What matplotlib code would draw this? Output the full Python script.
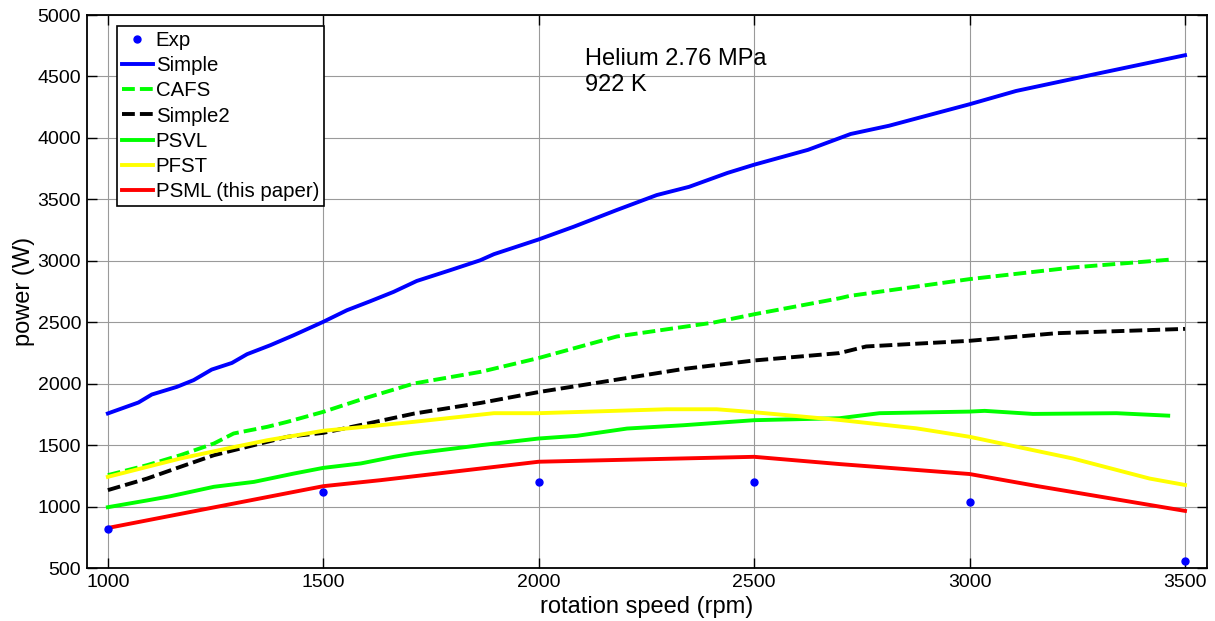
import numpy as np
import matplotlib
matplotlib.use('Agg')
import matplotlib.pyplot as plt

plt.rcParams['font.family'] = ['Liberation Sans', 'DejaVu Sans']

# 실험값
exp_rpm = [1000, 1500, 2000, 2500, 3000, 3500]
exp_w = [820, 1120, 1203, 1203, 1040, 560]

# Simple
simple_rpm = [1000, 1071, 1102, 1160, 1199, 1241, 1288, 1323, 1377, 1431, 1499, 1555,
              1609, 1663, 1717, 1794, 1864, 1896, 2000, 2081, 2181, 2274, 2349, 2438,
              2500, 2625, 2724, 2813, 3000, 3108, 3306, 3500]
simple_w = [1758, 1847, 1912, 1974, 2029, 2115, 2169, 2240, 2313, 2394, 2502, 2598,
            2671, 2747, 2836, 2923, 3004, 3054, 3174, 3277, 3413, 3535, 3602, 3715,
            3782, 3903, 4032, 4099, 4274, 4382, 4530, 4673]

# CAFS
cafs_rpm = [1000, 1091, 1168, 1246, 1292, 1370, 1417, 1500, 1595, 1711, 1866, 2000,
            2181, 2405, 2500, 2698, 2721, 3000, 3240, 3470]
cafs_w = [1256, 1337, 1418, 1513, 1595, 1649, 1690, 1771, 1880, 2002, 2097, 2209,
          2384, 2497, 2565, 2695, 2714, 2851, 2946, 3011]

# Simple2
simple2_rpm = [1000, 1091, 1168, 1246, 1323, 1417, 1500, 1595, 1711, 1866, 2000, 2181,
               2336, 2500, 2698, 2760, 3000, 3202, 3500]
simple2_w = [1134, 1228, 1323, 1418, 1486, 1568, 1600, 1670, 1757, 1844, 1932, 2033,
             2120, 2189, 2249, 2303, 2349, 2411, 2446]

# PSVL
psvl_rpm = [1000, 1091, 1145, 1246, 1339, 1432, 1500, 1587, 1664, 1711, 1866, 2000,
            2089, 2205, 2336, 2500, 2698, 2791, 3000, 3035, 3147, 3341, 3461]
psvl_w = [995, 1050, 1084, 1161, 1201, 1269, 1315, 1351, 1405, 1432, 1500, 1554,
          1576, 1635, 1662, 1703, 1719, 1760, 1773, 1779, 1754, 1760, 1740]

# PFST
pfst_rpm = [1000, 1091, 1168, 1277, 1370, 1500, 1595, 1711, 1896, 2000, 2297, 2413,
            2500, 2698, 2876, 3000, 3240, 3418, 3500]
pfst_w = [1242, 1323, 1391, 1473, 1540, 1617, 1649, 1690, 1760, 1760, 1792, 1792,
          1768, 1705, 1637, 1568, 1391, 1228, 1176]

# PSML (this paper)
psml_rpm = [1000, 1500, 1633, 1866, 2000, 2500, 2698, 3000, 3155, 3500]
psml_w = [826, 1166, 1215, 1310, 1365, 1405, 1346, 1265, 1168, 965]

xticks = [1000, 1500, 2000, 2500, 3000, 3500]
yticks = [500, 1000, 1500, 2000, 2500, 3000, 3500, 4000, 4500, 5000]

fig = plt.figure(figsize=(12.15, 6.21), dpi=100)
ax = fig.add_axes([0.0714, 0.0853, 0.922, 0.8905])

lw = 2.8
ax.plot(exp_rpm, exp_w, 'o', color='#0000ff', markersize=5, label='Exp', zorder=3)
ax.plot(simple_rpm, simple_w, '-', color='#0000ff', lw=lw, label='Simple')
ax.plot(cafs_rpm, cafs_w, '--', color='#00ff00', lw=lw, dashes=(3.3, 1.3), label='CAFS')
ax.plot(simple2_rpm, simple2_w, '--', color='black', lw=lw, dashes=(3.3, 1.3), label='Simple2')
ax.plot(psvl_rpm, psvl_w, '-', color='#00ff00', lw=lw, label='PSVL')
ax.plot(pfst_rpm, pfst_w, '-', color='#ffff00', lw=lw, label='PFST')
ax.plot(psml_rpm, psml_w, '-', color='#ff0000', lw=lw, label='PSML (this paper)')

ax.set_xlim(951, 3551)
ax.set_ylim(500, 5000)
ax.set_xticks(xticks)
ax.set_yticks(yticks)
ax.tick_params(direction='in', length=7, width=1, top=True, right=True,
               labelsize=14, pad=4)
ax.grid(True, color='#9a9a9a', lw=0.8)
ax.set_axisbelow(True)
for s in ax.spines.values():
    s.set_linewidth(1.3)

ax.set_xlabel('rotation speed (rpm)', fontsize=17, labelpad=4)
ax.set_ylabel('power (W)', fontsize=17, labelpad=2)

# 조건 메모
ax.text(2108, 4537, 'Helium 2.76 MPa\n922 K', fontsize=17, va='center', ha='left',
        linespacing=1.25)

leg = ax.legend(loc='upper left', bbox_to_anchor=(0.027, 0.98), fontsize=14.7,
                handlelength=1.5, handletextpad=0.15, labelspacing=0.3,
                borderpad=0.25, borderaxespad=0, fancybox=False, framealpha=1,
                edgecolor='black', numpoints=1)
leg.get_frame().set_linewidth(1.2)

plt.savefig('out.png', dpi=100)
